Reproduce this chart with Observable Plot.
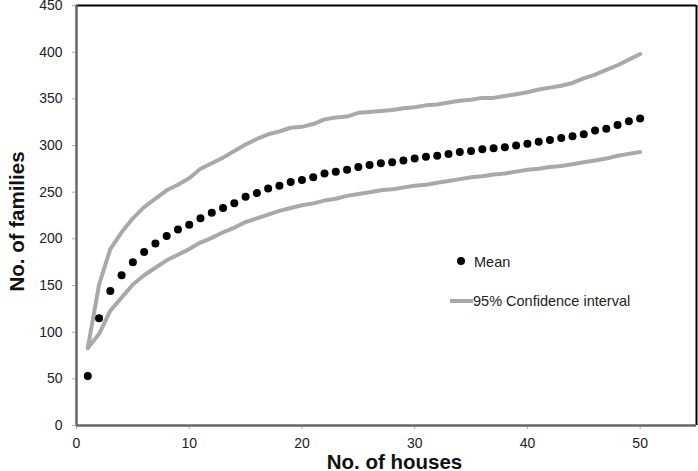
<!DOCTYPE html>
<html>
<head>
<meta charset="utf-8">
<script src="https://cdn.jsdelivr.net/npm/d3@7"></script>
<script src="https://cdn.jsdelivr.net/npm/@observablehq/plot@0.6"></script>
<style>
  html, body { margin: 0; padding: 0; background: #fff; overflow: hidden; }
  #chart { position: relative; width: 698px; height: 471px; }
  #chart svg { display: block; font-family: "Liberation Sans", Arial, sans-serif; }
</style>
</head>
<body>
<div id="chart"></div>
<script>
const houses = d3.range(1, 51);
const meanFamilies = [53,115,144,161,175,186,195,203,210,215,222,228,233,238,245,249,254,257,261,263,266,270,272,274,277,279,281,282,284,286,288,289,291,293,294,296,297,298,300,302,304,306,308,310,312,316,318,322,326,329];
const upperCI = [83,151,189,207,222,234,243,252,258,265,275,281,287,294,301,307,312,315,319,320,323,328,330,331,335,336,337,338,340,341,343,344,346,348,349,351,351,353,355,357,360,362,364,367,372,376,381,386,392,398];
const lowerCI = [83,98,123,137,151,161,169,177,183,189,196,201,207,212,218,222,226,230,233,236,238,241,243,246,248,250,252,253,255,257,258,260,262,264,266,267,269,270,272,274,275,277,278,280,282,284,286,289,291,293];
const xTicks = [0,10,20,30,40,50];
const yTicks = [0,50,100,150,200,250,300,350,400,450];
const xTitle = "No. of houses";
const yTitle = "No. of families";
const legendMean = "Mean";
const legendCI = "95% Confidence interval";

const meanData = houses.map((h, i) => ({h, v: meanFamilies[i]}));
const upperData = houses.map((h, i) => ({h, v: upperCI[i]}));
const lowerData = houses.map((h, i) => ({h, v: lowerCI[i]}));

const plot = Plot.plot({
  width: 698,
  height: 471,
  marginLeft: 76,
  marginTop: 5,
  marginRight: 2,
  marginBottom: 46,
  style: {fontFamily: "Liberation Sans, Arial, sans-serif", fontSize: "14px", color: "#222", background: "#fff"},
  x: {domain: [0, 55], label: null},
  y: {domain: [0, 450], label: null},
  marks: [
    Plot.axisX({ticks: xTicks, tickSize: 4, tickPadding: 9, stroke: "#aaa", fill: "#222", fontSize: 14, label: null}),
    Plot.axisY({ticks: yTicks, tickSize: 4, tickPadding: 10, stroke: "#aaa", fill: "#222", fontSize: 14, label: null}),
    Plot.ruleY([450], {stroke: "#000", strokeWidth: 2}),
    Plot.ruleX([55], {stroke: "#000", strokeWidth: 2}),
    Plot.ruleX([0], {stroke: "#666", strokeWidth: 2.5}),
    Plot.ruleY([0], {stroke: "#666", strokeWidth: 2.5}),
    Plot.line(upperData, {x: "h", y: "v", stroke: "#a9a9a9", strokeWidth: 4}),
    Plot.line(lowerData, {x: "h", y: "v", stroke: "#a9a9a9", strokeWidth: 4}),
    Plot.dot(meanData, {x: "h", y: "v", r: 4, fill: "#000", stroke: "none"}),
    Plot.text([xTitle], {frameAnchor: "bottom", textAnchor: "middle", lineAnchor: "middle", dx: 8, dy: 37, fontSize: 20.5, fontWeight: "bold", fill: "#111"}),
    Plot.text([yTitle], {frameAnchor: "left", textAnchor: "middle", lineAnchor: "middle", rotate: -90, dx: -59, dy: 6, fontSize: 20.5, fontWeight: "bold", fill: "#111"})
  ]
});
document.getElementById("chart").appendChild(plot);

const svg = d3.select(plot);

// legend
const lg = svg.append("g")
  .attr("font-family", "Liberation Sans, Arial, sans-serif")
  .attr("font-size", 14.5)
  .attr("text-anchor", "start")
  .attr("fill", "#222");
lg.append("circle").attr("cx", 461).attr("cy", 261).attr("r", 4).attr("fill", "#000");
lg.append("text").attr("x", 474).attr("y", 267).text(legendMean);
lg.append("line").attr("x1", 450).attr("x2", 473).attr("y1", 301).attr("y2", 301).attr("stroke", "#a9a9a9").attr("stroke-width", 4);
lg.append("text").attr("x", 473).attr("y", 306).text(legendCI);
</script>
</body>
</html>
